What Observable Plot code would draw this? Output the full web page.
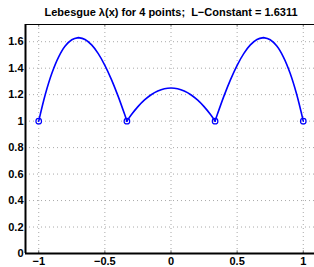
<!DOCTYPE html>
<html>
<head>
<meta charset="utf-8">
<script src="https://cdn.jsdelivr.net/npm/d3@7"></script>
<script src="https://cdn.jsdelivr.net/npm/@observablehq/plot@0.6"></script>
<style>
html,body{margin:0;padding:0;background:#fff;overflow:hidden;width:314px;height:267px;}
svg{display:block;}
</style>
</head>
<body>
<div id="chart"></div>
<script>
const titleText = "Lebesgue \u03BB(x) for 4 points;  L\u2212Constant = 1.6311";

// Curve samples, one array per arc
const segment = [
  "a","a","a","a","a","a","a","a","a","a","a","a","a","a","a","a",
  "b","b","b","b","b","b","b","b","b","b","b","b","b","b","b",
  "c","c","c","c","c","c","c","c","c","c","c","c","c","c","c","c"
];
const xs = [
  -1, -0.95, -0.9, -0.85, -0.8, -0.75, -0.7, -0.6991, -0.65, -0.6, -0.55, -0.5, -0.45, -0.4, -0.35, -0.3333,
  -0.3333, -0.3, -0.25, -0.2, -0.15, -0.1, -0.05, 0, 0.05, 0.1, 0.15, 0.2, 0.25, 0.3, 0.3333,
  0.3333, 0.35, 0.4, 0.45, 0.5, 0.55, 0.6, 0.65, 0.6991, 0.7, 0.75, 0.8, 0.85, 0.9, 0.95, 1
];
const ys = [
  1, 1.2029, 1.3634, 1.4839, 1.567, 1.6152, 1.6311, 1.6311, 1.6172, 1.576, 1.5101, 1.4219, 1.314, 1.189, 1.0494, 1,
  1, 1.0475, 1.1094, 1.16, 1.1994, 1.2275, 1.2444, 1.25, 1.2444, 1.2275, 1.1994, 1.16, 1.1094, 1.0475, 1,
  1, 1.0494, 1.189, 1.314, 1.4219, 1.5101, 1.576, 1.6172, 1.6311, 1.6311, 1.6152, 1.567, 1.4839, 1.3634, 1.2029, 1
];

// Interpolation nodes
const nodeX = [-1, -0.3333, 0.3333, 1];
const nodeY = [1, 1, 1, 1];

// Tick labels
const xTicks = [-1, -0.5, 0, 0.5, 1];
const xTickLabels = ["\u22121", "\u22120.5", "0", "0.5", "1"];
const yTicks = [0, 0.2, 0.4, 0.6, 0.8, 1, 1.2, 1.4, 1.6];
const yTickLabels = ["0", "0.2", "0.4", "0.6", "0.8", "1", "1.2", "1.4", "1.6"];

const curve = xs.map((x, i) => ({x, y: ys[i], s: segment[i]}));
const nodes = nodeX.map((x, i) => ({x, y: nodeY[i]}));

const font = "Liberation Sans, Arial, Helvetica, sans-serif";

const chart = Plot.plot({
  width: 314,
  height: 267,
  marginTop: 24,
  marginBottom: 14,
  marginLeft: 25,
  marginRight: 0,
  style: {fontFamily: font, fontSize: "11px", fontWeight: "bold", color: "#000", background: "#fff", overflow: "visible"},
  x: {domain: [-1.1, 1.1], range: [25, 316]},
  y: {domain: [0, 1.73], range: [253, 24]},
  marks: [
    Plot.gridX(xTicks, {stroke: "#8c8c8c", strokeOpacity: 0.75, strokeDasharray: "1,3", strokeWidth: 1}),
    Plot.gridY(yTicks, {stroke: "#8c8c8c", strokeOpacity: 0.75, strokeDasharray: "1,3", strokeWidth: 1}),
    Plot.ruleX(xTicks, {x: d => d, y1: 0, y2: 0.02, stroke: "#666"}),
    Plot.ruleX(xTicks, {x: d => d, y1: 1.71, y2: 1.73, stroke: "#666"}),
    Plot.line(curve, {x: "x", y: "y", z: "s", stroke: "#0000ff", strokeWidth: 1.6, curve: "catmull-rom"}),
    Plot.dot(nodes, {x: "x", y: "y", r: 2.8, stroke: "#0000ff", fill: "none", strokeWidth: 1.2}),
    Plot.ruleY([0], {stroke: "#000", strokeWidth: 2}),
    Plot.ruleY([1.73], {stroke: "#000", strokeWidth: 1.2}),
    Plot.ruleX([-1.1], {stroke: "#000", strokeWidth: 2}),
    Plot.axisX(xTicks, {tickSize: 0, tickPadding: 4, tickFormat: (d, i) => xTickLabels[i], fontWeight: "bold", fontSize: 11, label: null}),
    Plot.axisY(yTicks, {tickSize: 0, tickPadding: 2, tickFormat: (d, i) => yTickLabels[i], fontWeight: "bold", fontSize: 11, label: null}),
    Plot.text([titleText], {x: 0, y: 1.73, dy: -12, text: d => d, fontWeight: "bold", fontSize: 11, textAnchor: "middle"})
  ]
});
document.getElementById("chart").appendChild(chart);
</script>
</body>
</html>
